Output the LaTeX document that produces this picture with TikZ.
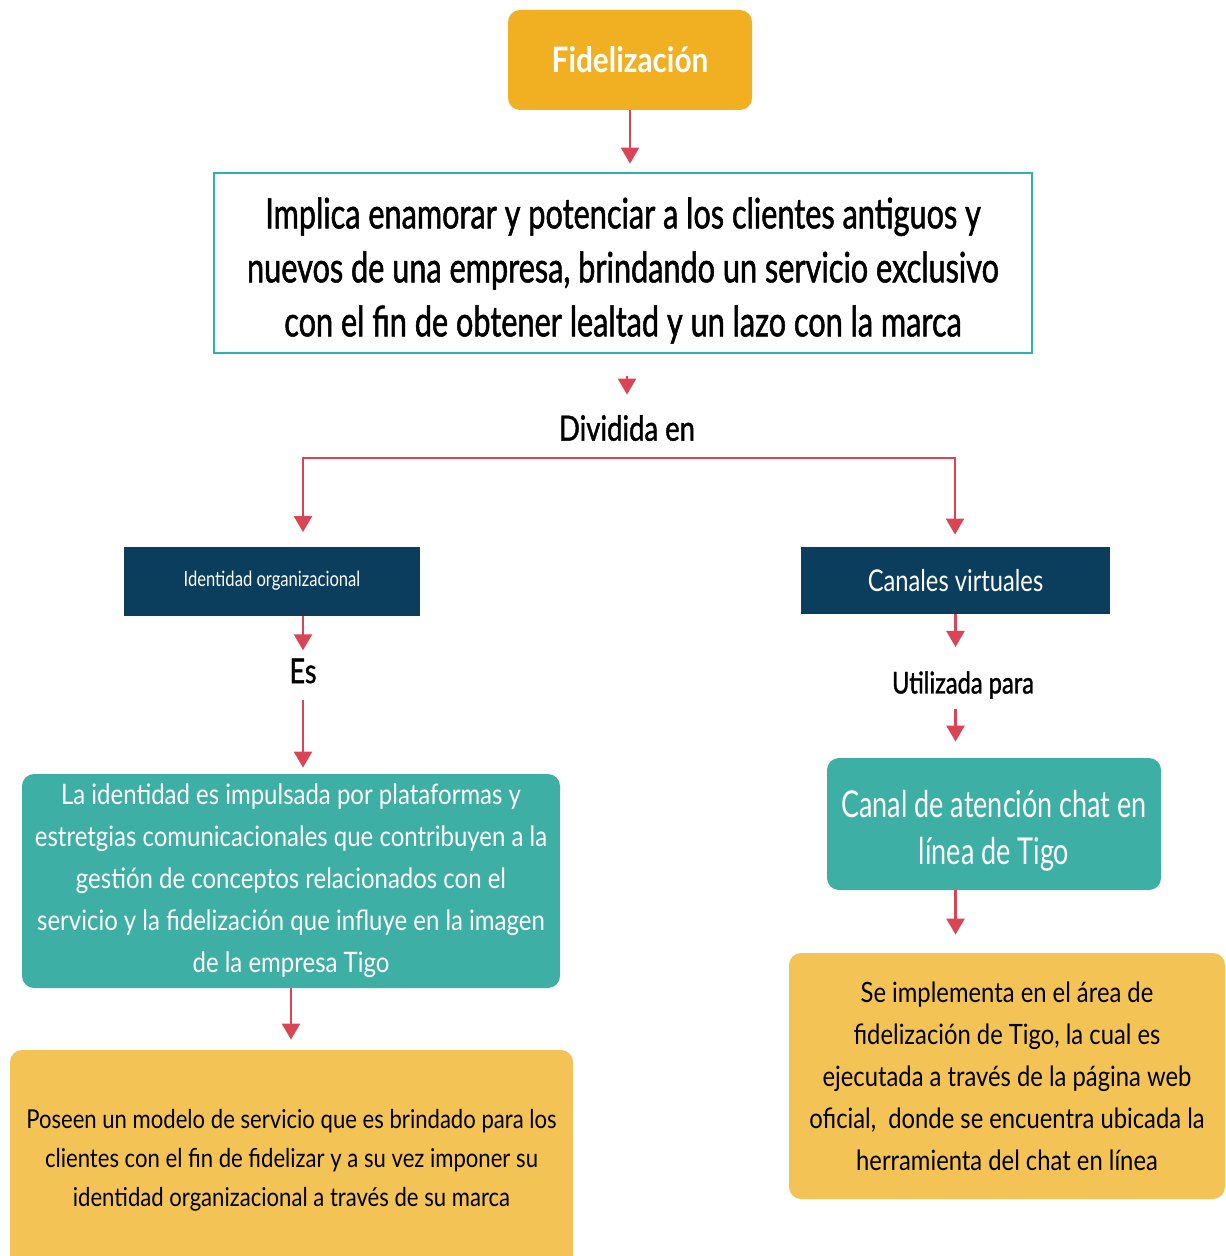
\documentclass[tikz,border=0pt]{standalone}
\usepackage{fontspec}
\setmainfont{Lato}[FakeStretch=0.85]
\newfontfamily\fontmid{Lato}[FakeStretch=0.79]
\newfontfamily\fontmidheavy{Lato}[FakeStretch=0.79, FakeBold=1.2]
\newfontfamily\fontnarrow{Lato}[FakeStretch=0.73]
\newfontfamily\fontnarrowheavy{Lato}[FakeStretch=0.73, FakeBold=1.2]
\usepackage{tikz}
\usetikzlibrary{positioning,arrows.meta}
\definecolor{fidoro}{HTML}{F0B022}
\definecolor{fidteal}{HTML}{3DAFA5}
\definecolor{fidline}{HTML}{2BB3B3}
\definecolor{fidnavy}{HTML}{0B3D5C}
\definecolor{fidyellow}{HTML}{F3C356}
\definecolor{fidred}{HTML}{D94555}

\begin{document}
\begin{tikzpicture}[x=0.5pt,y=-0.5pt,
arrow/.style={-{Triangle[width=9pt,length=8pt]}, draw=fidred, line width=1.2pt},
titlenode/.style={rectangle, rounded corners=6pt, fill=fidoro, text=white, inner sep=0pt},
framenode/.style={rectangle, draw=fidline, line width=1.4pt, fill=white, inner sep=0pt, align=center},
navynode/.style={rectangle, fill=fidnavy, text=white, inner sep=0pt},
tealnode/.style={rectangle, rounded corners=6pt, fill=fidteal, text=white, inner sep=0pt, align=center},
yellownode/.style={rectangle, rounded corners=6pt, fill=fidyellow, inner sep=0pt, align=center},
labelnode/.style={inner sep=1pt}]
\path[use as bounding box, clip] (0,0) rectangle (1225,1256);
\node[titlenode, minimum width=122pt, minimum height=50pt,
  font=\fontsize{17.5pt}{21pt}\selectfont\bfseries] (1) at (630,60) {Fidelización};
\node[framenode, minimum width=409pt, minimum height=90pt,
  font=\fontnarrowheavy\fontsize{21pt}{27pt}\selectfont] (2) at (623,263)
  {\rule{0pt}{23pt}Implica enamorar y potenciar a los clientes antiguos y\\
   nuevos de una empresa, brindando un servicio exclusivo\\
   con el fin de obtener lealtad y un lazo con la marca};
\node[labelnode, font=\fontmidheavy\fontsize{17.4pt}{20pt}\selectfont] (3) at (627,428) {Dividida en};
\node[navynode, minimum width=148pt, minimum height=34.5pt,
  font=\fontmid\fontsize{10.5pt}{12pt}\selectfont] (4) at (272,581) {Identidad organizacional};
\node[navynode, minimum width=154.5pt, minimum height=33.5pt,
  font=\fontmid\fontsize{15pt}{18pt}\selectfont] (5) at (955.5,580.5) {Canales virtuales};
\node[labelnode, font=\fontmidheavy\fontsize{17pt}{20pt}\selectfont] (6) at (303,671) {Es};
\node[tealnode, minimum width=269pt, minimum height=107pt,
  font=\fontsize{14.1pt}{21pt}\selectfont] (7) at (291,881)
  {La identidad es impulsada por plataformas y\\
   estretgias comunicacionales que contribuyen a la\\
   gestión de conceptos relacionados con el\\
   servicio y la fidelización que influye en la imagen\\
   de la empresa Tigo};
\node[yellownode, minimum width=281.5pt, minimum height=110pt,
  font=\fontsize{13pt}{19.6pt}\selectfont] (8) at (291.5,1160)
  {Poseen un modelo de servicio que es brindado para los\\
   clientes con el fin de fidelizar y a su vez imponer su\\
   identidad organizacional a través de su marca};
\node[labelnode, font=\fontmidheavy\fontsize{15pt}{18pt}\selectfont] (9) at (963,685) {Utilizada para};
\node[tealnode, minimum width=167pt, minimum height=66pt,
  font=\fontnarrow\fontsize{18.5pt}{23.5pt}\selectfont] (10) at (994,824)
  {\rule{0pt}{20pt}Canal de atención chat en\\ línea de Tigo};
\node[yellownode, minimum width=218pt, minimum height=123pt,
  font=\fontsize{14pt}{21pt}\selectfont] (11) at (1007,1076)
  {Se implementa en el área de\\
   fidelización de Tigo, la cual es\\
   ejecutada a través de la página web\\
   oficial,\ \ donde se encuentra ubicada la\\
   herramienta del chat en línea};
\coordinate (a) at (303,458);
\coordinate (b) at (955,458);
% connectors
\draw[arrow, shorten >=4pt] (1.south) -- (1.south |- 2.north);
\draw[arrow, shorten <=11pt, shorten >=9pt] (3.north |- 2.south) -- (3.north);
\draw[arrow, shorten >=7pt] (b) -- (a) -- (a |- 4.north);
\draw[arrow, shorten >=6pt] (a) -- (b) -- (b |- 5.north);
\draw[arrow, shorten >=3pt] (6.north |- 4.south) -- (6.north);
\draw[arrow, shorten <=7pt, shorten >=3pt] (6.south) -- (6.south |- 7.north);
\draw[arrow, shorten >=5pt] (7.south) -- (7.south |- 8.north);
\draw[arrow, shorten >=11pt] (5.south) -- (5.south |- 9.north);
\draw[arrow, shorten <=4pt, shorten >=8pt] (9.south -| 5.south) -- (5.south |- 10.north);
\draw[arrow, shorten >=9pt] (10.south -| 5.south) -- (5.south |- 11.north);
\end{tikzpicture}
\end{document}
